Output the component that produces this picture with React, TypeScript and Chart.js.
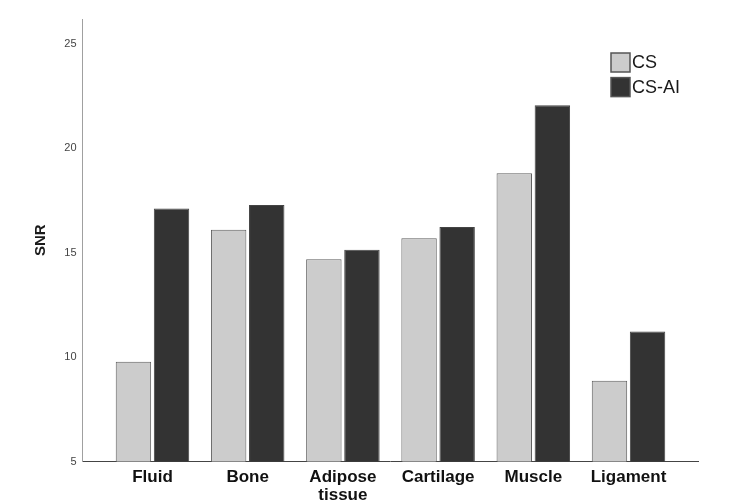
import { useEffect, useRef } from 'react';
import { Chart, registerables } from 'chart.js';

Chart.register(...registerables);

const categories = ['Fluid', 'Bone', 'Adipose\ntissue', 'Cartilage', 'Muscle', 'Ligament'];
const seriesNames = ['CS', 'CS-AI'];
const csValues = [9.78, 16.1, 14.68, 15.69, 18.8, 8.87];
const csAiValues = [17.11, 17.28, 15.14, 16.23, 22.06, 11.22];
const yTickValues = [5, 10, 15, 20, 25];
const yMin = 5;
const yMax = 26.19;

const legendPlugin = {
  id: 'boxLegend',
  afterDraw(chart: any) {
    const ctx = chart.ctx;
    const area = chart.chartArea;
    ctx.save();
    chart.data.datasets.forEach((ds: any, i: number) => {
      const bx = area.right - 87.5;
      const by = area.top + 34 + i * 24.6;
      ctx.fillStyle = ds.backgroundColor;
      ctx.fillRect(bx, by, 19, 19);
      ctx.strokeStyle = '#555555';
      ctx.lineWidth = 1.5;
      ctx.strokeRect(bx, by, 19, 19);
      ctx.fillStyle = '#1a1a1a';
      ctx.font = '18px "Liberation Sans", Arial, sans-serif';
      ctx.textBaseline = 'middle';
      ctx.textAlign = 'left';
      ctx.fillText(ds.label, bx + 21, by + 10.5);
    });
    ctx.restore();
  },
};

export default function App() {
  const ref = useRef<HTMLCanvasElement | null>(null);

  useEffect(() => {
    if (!ref.current) return;
    const chart = new Chart(ref.current, {
      type: 'bar',
      data: {
        datasets: [
          {
            label: seriesNames[0],
            data: csValues.map((v, i) => ({ x: i, y: v })),
            backgroundColor: '#cccccc',
            borderColor: '#5e5e5e',
            borderWidth: 1,
            barPercentage: 0.93,
            categoryPercentage: 0.8,
          },
          {
            label: seriesNames[1],
            data: csAiValues.map((v, i) => ({ x: i, y: v })),
            backgroundColor: '#333333',
            borderColor: '#444444',
            borderWidth: 1,
            barPercentage: 0.93,
            categoryPercentage: 0.8,
          },
        ],
      },
      options: {
        animation: false,
        responsive: true,
        maintainAspectRatio: false,
        layout: { padding: { left: 0, right: 38.5, top: 19, bottom: 0 } },
        plugins: {
          legend: { display: false },
          tooltip: { enabled: false },
        },
        scales: {
          x: {
            type: 'linear',
            offset: false,
            min: -0.735,
            max: categories.length - 1 + 0.735,
            grid: { display: false, drawTicks: false, offset: false },
            border: { display: true, color: '#444444', width: 1 },
            afterBuildTicks: (scale: any) => {
              scale.ticks = categories.map((_, i) => ({ value: i }));
            },
            afterFit: (scale: any) => {
              scale.height = 41.5;
            },
            ticks: {
              autoSkip: false,
              maxRotation: 0,
              minRotation: 0,
              padding: 7,
              color: '#111111',
              font: { family: '"Liberation Sans", Arial, sans-serif', size: 17, weight: 'bold', lineHeight: 1.05 },
              callback: (value: any) => {
                const label = categories[Math.round(Number(value))];
                return label ? label.split('\n') : '';
              },
            },
          },
          y: {
            type: 'linear',
            min: yMin,
            max: yMax,
            grid: { display: false, drawTicks: false },
            border: { display: true, color: '#a0a0a0', width: 1 },
            afterBuildTicks: (scale: any) => {
              scale.ticks = yTickValues.map((v) => ({ value: v }));
            },
            afterFit: (scale: any) => {
              scale.width = 82.5;
            },
            ticks: {
              padding: 6,
              color: '#444444',
              font: { family: '"Liberation Sans", Arial, sans-serif', size: 11 },
            },
            title: {
              display: true,
              text: 'SNR',
              color: '#1a1a1a',
              padding: { top: 32, bottom: 0 },
              font: { family: '"Liberation Sans", Arial, sans-serif', size: 15, weight: 'bold' },
            },
          },
        },
      },
      plugins: [legendPlugin],
    } as any);
    return () => chart.destroy();
  }, []);

  return (
    <div style={{ position: 'absolute', left: 0, top: 0, width: 737, height: 503, background: '#ffffff' }}>
      <canvas ref={ref} />
    </div>
  );
}
